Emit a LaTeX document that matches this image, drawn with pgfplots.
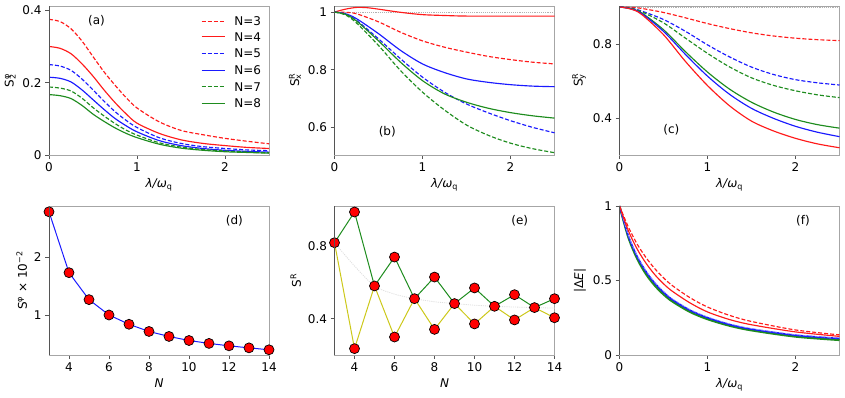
\documentclass[border=0pt]{standalone}
\usepackage{fontspec}
\setmainfont{DejaVu Sans}
\usepackage{pgfplots}
\pgfplotsset{compat=1.18}
\definecolor{myred}{HTML}{FF1A1A}
\definecolor{myblue}{HTML}{1A1AFF}
\definecolor{mygreen}{HTML}{1E8C1E}
\definecolor{myyel}{HTML}{CCC81A}
\definecolor{frame}{HTML}{A6A6A6}
\definecolor{frameL}{HTML}{555555}
\newcommand\fsz{\fontsize{12}{14}\selectfont}
\newcommand\supsub[2]{S\rlap{\textsuperscript{#1}}\textsubscript{#2}}
\tikzset{dsh/.style={dash pattern=on 4pt off 2pt}}
% legend pieces: line sample (style, rel y) and label (rel y, text)
\newcommand\legline[2]{\draw[#1, line width=0.9pt] (rel axis cs:0.694,#2) -- (rel axis cs:0.80,#2);}
\newcommand\legtext[2]{\node[anchor=west, inner sep=0pt, font=\fsz] at (rel axis cs:0.842,#1) {#2};}

\pgfplotsset{
  panel/.style={
    width=220pt, height=149pt, scale only axis,
    axis line style={frame, line width=0.8pt},
    tick pos=left, tick align=outside,
    major tick length=4pt,
    tick style={frameL, line width=0.6pt},
    every tick label/.append style={font=\fsz},
    label style={font=\fsz},
    /pgf/number format/assume math mode=true,
    after end axis/.code={\draw[frameL, line width=0.8pt] (rel axis cs:0,0) -- (rel axis cs:0,1);},
  },
  lam/.style={xmin=0, xmax=2.5, xtick={0,1,2}, xlabel={\textit{λ/ω}\textsubscript{q}}},
  nax/.style={xmin=3, xmax=14, xtick={4,6,...,14}, xlabel={\textit{N}}, clip=false},
  every axis plot/.append style={line width=1.15pt},
  dot/.style={only marks, mark=*, mark size=5pt, mark options={fill=red, draw=black, line width=0.7pt}},
}

\begin{document}
\begin{tikzpicture}
\path[use as bounding box] (0,0) rectangle (845pt,398pt);

% (a)
\begin{axis}[panel, lam, at={(49pt,243pt)}, anchor=south west,
  ymin=0, ymax=0.412, ytick={0,0.2,0.4}, ylabel={\supsub{φ}{2}}]
\addplot[color=myred, dsh, smooth] coordinates {(0,0.375) (0.125,0.369) (0.25,0.349) (0.375,0.315) (0.5,0.272) (0.625,0.23) (0.75,0.193) (0.875,0.159) (1,0.13) (1.25,0.092) (1.5,0.068) (1.75,0.056) (2,0.046) (2.25,0.038) (2.5,0.031)};
\addplot[color=myred, smooth] coordinates {(0,0.300) (0.125,0.295) (0.25,0.28) (0.375,0.252) (0.5,0.218) (0.625,0.18) (0.75,0.145) (0.875,0.114) (1,0.088) (1.25,0.060) (1.5,0.042) (1.75,0.032) (2,0.026) (2.25,0.021) (2.5,0.018)};
\addplot[color=myblue, dsh, smooth] coordinates {(0,0.250) (0.125,0.246) (0.25,0.234) (0.375,0.21) (0.5,0.180) (0.625,0.149) (0.75,0.120) (0.875,0.096) (1,0.076) (1.25,0.048) (1.5,0.032) (1.75,0.023) (2,0.018) (2.25,0.014) (2.5,0.012)};
\addplot[color=myblue, smooth] coordinates {(0,0.215) (0.125,0.212) (0.25,0.202) (0.375,0.18) (0.5,0.153) (0.625,0.126) (0.75,0.101) (0.875,0.081) (1,0.064) (1.25,0.040) (1.5,0.026) (1.75,0.018) (2,0.013) (2.25,0.010) (2.5,0.008)};
\addplot[color=mygreen, dsh, smooth] coordinates {(0,0.188) (0.125,0.185) (0.25,0.177) (0.375,0.157) (0.5,0.131) (0.625,0.108) (0.75,0.087) (0.875,0.069) (1,0.055) (1.25,0.034) (1.5,0.022) (1.75,0.015) (2,0.011) (2.25,0.008) (2.5,0.006)};
\addplot[color=mygreen, smooth] coordinates {(0,0.167) (0.125,0.164) (0.25,0.156) (0.375,0.137) (0.5,0.113) (0.625,0.093) (0.75,0.075) (0.875,0.06) (1,0.048) (1.25,0.030) (1.5,0.019) (1.75,0.013) (2,0.009) (2.25,0.007) (2.5,0.005)};
\legline{myred, dsh}{0.899}
\legline{myred}{0.794}
\legline{myblue, dsh}{0.683}
\legline{myblue}{0.570}
\legline{mygreen, dsh}{0.458}
\legline{mygreen}{0.347}
\legtext{0.899}{N=3}
\legtext{0.794}{N=4}
\legtext{0.683}{N=5}
\legtext{0.570}{N=6}
\legtext{0.458}{N=7}
\legtext{0.347}{N=8}
\node[font=\fsz] at (axis cs:0.54,0.372) {(a)};
\end{axis}

% (b)
\begin{axis}[panel, lam, at={(334.5pt,243pt)}, anchor=south west,
  ymin=0.504, ymax=1.021, ytick={0.6,0.8,1}, ylabel={\supsub{R}{x}}]
\addplot[gray!60, densely dotted, line width=0.6pt] coordinates {(0,1) (2.5,1)};
\addplot[color=myred, smooth] coordinates {(0,1) (0.125,1.01) (0.25,1.016) (0.375,1.015) (0.5,1.01) (0.75,0.999) (1,0.991) (1.25,0.988) (1.5,0.986) (2,0.986) (2.5,0.986)};
\addplot[color=myred, dsh, smooth] coordinates {(0,1) (0.125,0.999) (0.25,0.994) (0.5,0.966) (0.75,0.93) (1,0.9) (1.25,0.878) (1.5,0.861) (1.75,0.846) (2,0.835) (2.25,0.826) (2.5,0.82)};
\addplot[color=myblue, smooth] coordinates {(0,1) (0.125,0.994) (0.25,0.977) (0.5,0.925) (0.75,0.867) (1,0.82) (1.25,0.79) (1.5,0.768) (1.75,0.756) (2,0.748) (2.25,0.743) (2.5,0.741)};
\addplot[color=myblue, dsh, smooth] coordinates {(0,1) (0.125,0.992) (0.25,0.971) (0.5,0.907) (0.75,0.838) (1,0.774) (1.25,0.722) (1.5,0.681) (1.75,0.65) (2,0.623) (2.25,0.6) (2.5,0.581)};
\addplot[color=mygreen, smooth] coordinates {(0,1) (0.125,0.992) (0.25,0.969) (0.5,0.9) (0.75,0.826) (1,0.762) (1.25,0.716) (1.5,0.687) (1.75,0.666) (2,0.651) (2.25,0.64) (2.5,0.632)};
\addplot[color=mygreen, dsh, smooth] coordinates {(0,1) (0.125,0.99) (0.25,0.962) (0.5,0.884) (0.75,0.797) (1,0.722) (1.25,0.66) (1.5,0.608) (1.75,0.572) (2,0.545) (2.25,0.526) (2.5,0.512)};
\node[font=\fsz] at (axis cs:0.6,0.585) {(b)};
\end{axis}

% (c)
\begin{axis}[panel, lam, at={(619.5pt,243pt)}, anchor=south west,
  ymin=0.2, ymax=1.005, ytick={0.4,0.8}, ylabel={\supsub{R}{y}}]
\addplot[gray!60, densely dotted, line width=0.6pt] coordinates {(0,1) (2.5,1)};
\addplot[color=myred, dsh, smooth] coordinates {(0,1) (0.125,0.998) (0.25,0.992) (0.5,0.97) (0.75,0.941) (1,0.91) (1.25,0.883) (1.5,0.86) (1.75,0.843) (2,0.831) (2.25,0.823) (2.5,0.818)};
\addplot[color=myblue, dsh, smooth] coordinates {(0,1) (0.125,0.994) (0.25,0.978) (0.5,0.932) (0.75,0.868) (1,0.795) (1.25,0.73) (1.5,0.675) (1.75,0.635) (2,0.607) (2.25,0.59) (2.5,0.578)};
\addplot[color=mygreen, dsh, smooth] coordinates {(0,1) (0.125,0.993) (0.25,0.974) (0.5,0.914) (0.75,0.831) (1,0.749) (1.25,0.676) (1.5,0.617) (1.75,0.576) (2,0.547) (2.25,0.525) (2.5,0.51)};
\addplot[color=mygreen, smooth] coordinates {(0,1) (0.125,0.991) (0.25,0.968) (0.5,0.877) (0.75,0.758) (1,0.648) (1.25,0.556) (1.5,0.485) (1.75,0.432) (2,0.392) (2.25,0.364) (2.5,0.345)};
\addplot[color=myblue, smooth] coordinates {(0,1) (0.125,0.99) (0.25,0.965) (0.5,0.868) (0.75,0.743) (1,0.626) (1.25,0.528) (1.5,0.452) (1.75,0.398) (2,0.355) (2.25,0.323) (2.5,0.299)};
\addplot[color=myred, smooth] coordinates {(0,1) (0.125,0.989) (0.25,0.96) (0.5,0.85) (0.75,0.705) (1,0.575) (1.25,0.466) (1.5,0.383) (1.75,0.33) (2,0.29) (2.25,0.26) (2.5,0.239)};
\node[font=\fsz] at (axis cs:0.59,0.336) {(c)};
\end{axis}

% (d)
\begin{axis}[panel, nax, at={(49pt,43pt)}, anchor=south west,
  ymin=0.31, ymax=2.88, ytick={1,2}, ylabel={S\textsuperscript{φ} × 10\textsuperscript{−2}}]
\addplot[color=myblue, line width=1pt] coordinates {(3,2.78) (4,1.73) (5,1.265) (6,1.0) (7,0.84) (8,0.716) (9,0.63) (10,0.56) (11,0.51) (12,0.468) (13,0.433) (14,0.40)};
\addplot[dot] coordinates {(3,2.78) (4,1.73) (5,1.265) (6,1.0) (7,0.84) (8,0.716) (9,0.63) (10,0.56) (11,0.51) (12,0.468) (13,0.433) (14,0.40)};
\node[font=\fsz] at (axis cs:12.27,2.62) {(d)};
\end{axis}

% (e)
\begin{axis}[panel, nax, at={(334.5pt,43pt)}, anchor=south west,
  ymin=0.2, ymax=1.02, ytick={0.4,0.8}, ylabel={S\textsuperscript{R}}]
\addplot[gray!25, densely dotted, smooth, line width=0.8pt] coordinates {(3,0.818) (4,0.69) (5,0.58) (6,0.535) (7,0.51) (8,0.493) (9,0.483) (10,0.474) (11,0.468) (12,0.464) (13,0.461) (14,0.458)};
\addplot[color=mygreen, line width=1pt] coordinates {(3,0.818) (4,0.987) (5,0.58) (6,0.739) (7,0.51) (8,0.629) (9,0.483) (10,0.569) (11,0.468) (12,0.532) (13,0.461) (14,0.51)};
\addplot[color=myyel, line width=1pt] coordinates {(3,0.818) (4,0.235) (5,0.58) (6,0.299) (7,0.51) (8,0.341) (9,0.483) (10,0.371) (11,0.468) (12,0.393) (13,0.461) (14,0.405)};
\addplot[dot] coordinates {(3,0.818) (4,0.987) (5,0.58) (6,0.739) (7,0.51) (8,0.629) (9,0.483) (10,0.569) (11,0.468) (12,0.532) (13,0.461) (14,0.51)};
\addplot[dot] coordinates {(4,0.235) (6,0.299) (8,0.341) (10,0.371) (12,0.393) (14,0.405)};
\node[font=\fsz] at (axis cs:12.26,0.938) {(e)};
\end{axis}

% (f)
\begin{axis}[panel, lam, at={(619.5pt,43pt)}, anchor=south west,
  ymin=0, ymax=1, ytick={0,0.5,1}, ylabel={|Δ\textit{E}|}]
\addplot[color=mygreen, smooth, line width=2pt] coordinates {(0,1) (0.1,0.789) (0.2,0.646) (0.3,0.543) (0.4,0.466) (0.5,0.406) (0.6,0.359) (0.8,0.289) (1,0.24) (1.25,0.196) (1.5,0.165) (2,0.123) (2.5,0.1)};
\addplot[color=mygreen, dsh, smooth] coordinates {(0,1) (0.1,0.795) (0.2,0.654) (0.3,0.552) (0.4,0.475) (0.5,0.414) (0.6,0.366) (0.8,0.295) (1,0.245) (1.25,0.2) (1.5,0.169) (2,0.127) (2.5,0.104)};
\addplot[color=myblue, smooth, line width=1.6pt] coordinates {(0,1) (0.1,0.8) (0.2,0.662) (0.3,0.561) (0.4,0.483) (0.5,0.422) (0.6,0.372) (0.8,0.301) (1,0.251) (1.25,0.205) (1.5,0.174) (2,0.133) (2.5,0.111)};
\addplot[color=myblue!40!white, dsh, smooth, line width=0.6pt] coordinates {(0,1) (0.1,0.805) (0.2,0.668) (0.3,0.567) (0.4,0.489) (0.5,0.428) (0.6,0.378) (0.8,0.306) (1,0.256) (1.25,0.21) (1.5,0.178) (2,0.137) (2.5,0.114)};
\addplot[color=myred, smooth] coordinates {(0,1) (0.1,0.835) (0.2,0.712) (0.3,0.617) (0.4,0.54) (0.5,0.478) (0.6,0.428) (0.8,0.35) (1,0.289) (1.25,0.238) (1.5,0.203) (2,0.155) (2.5,0.125)};
\addplot[color=myred, dsh, smooth] coordinates {(0,1) (0.1,0.86) (0.2,0.745) (0.3,0.655) (0.4,0.58) (0.5,0.518) (0.6,0.466) (0.8,0.385) (1,0.322) (1.25,0.266) (1.5,0.225) (2,0.168) (2.5,0.135)};
\node[font=\fsz] at (axis cs:2.085,0.9) {(f)};
\end{axis}
\end{tikzpicture}
\end{document}
